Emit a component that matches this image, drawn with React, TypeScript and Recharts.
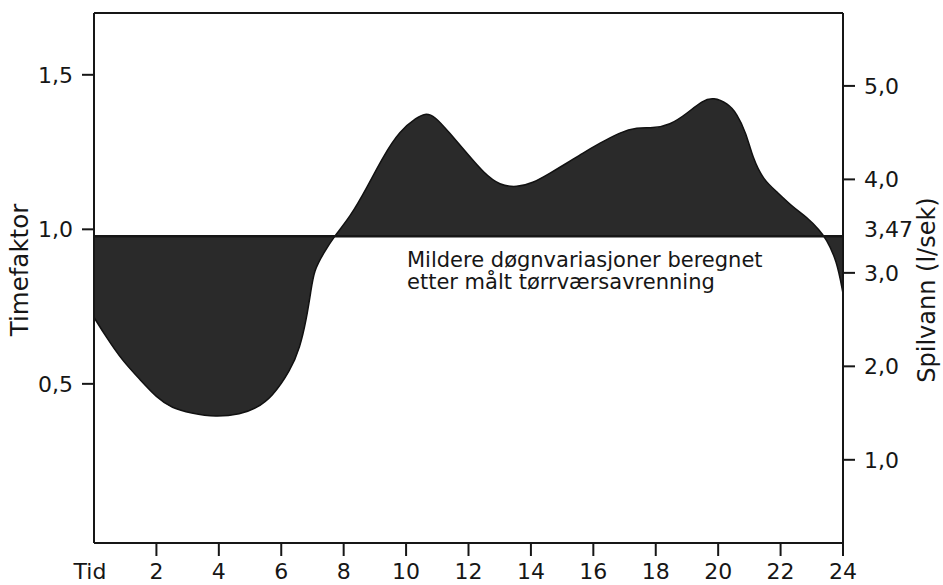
import React from "react";
import {
  ComposedChart,
  Area,
  XAxis,
  YAxis,
  ReferenceLine,
} from "recharts";

// hour of day and the hourly factor
const hours = [
  0, 0.4, 0.9, 1.5, 2, 2.5, 3.1, 3.9, 4.7, 5.2, 5.7, 6.3, 6.6, 6.8, 6.95,
  7.05, 7.35, 7.7, 8.2, 8.75, 9.25, 9.8, 10.35, 10.6, 10.9, 11.4, 11.95, 12.5,
  13, 13.55, 14.05, 14.6, 15.15, 15.65, 16.2, 16.85, 17.4, 17.9, 18.45, 19,
  19.5, 19.85, 20.3, 20.6, 20.9, 21.1, 21.45, 21.9, 22.4, 22.85, 23.25, 23.45,
  23.8, 24,
];
const timefaktor = [
  0.715, 0.65, 0.576, 0.511, 0.456, 0.421, 0.405, 0.392, 0.402, 0.421, 0.456,
  0.544, 0.618, 0.706, 0.8, 0.867, 0.922, 0.978, 1.039, 1.136, 1.233, 1.32,
  1.362, 1.375, 1.369, 1.311, 1.246, 1.181, 1.142, 1.136, 1.149, 1.181, 1.214,
  1.246, 1.278, 1.314, 1.33, 1.327, 1.337, 1.375, 1.417, 1.427, 1.408, 1.375,
  1.311, 1.233, 1.159, 1.12, 1.071, 1.039, 0.997, 0.971, 0.9, 0.793,
];

const hourTicks = [0, 2, 4, 6, 8, 10, 12, 14, 16, 18, 20, 22, 24];
const factorTicks = [0.5, 1.0, 1.5];
const spilvannTicks = [1, 2, 3, 3.47, 4, 5];
const meanLevel = 0.978; // 3,47 l/sek

const data = hours.map((h, i) => ({ hour: h, factor: timefaktor[i] }));

const FONT = "'DejaVu Sans', sans-serif";
const INK = "#161616";

function comma(v: number): string {
  const s = Number.isInteger(v) ? v.toFixed(1) : String(v);
  return s.replace(".", ",");
}

function HourTick(props: any) {
  const { x, y, payload } = props;
  const v = payload.value;
  return (
    <g>
      {v !== 0 && (
        <line x1={x} x2={x} y1={y - 20} y2={y - 7} stroke={INK} strokeWidth={2} />
      )}
      <text
        x={v === 0 ? x - 4 : x}
        y={y}
        dy="0.71em"
        textAnchor="middle"
        fill={INK}
        fontSize={22}
        fontFamily={FONT}
      >
        {v === 0 ? "Tid" : v}
      </text>
    </g>
  );
}

function SpilvannTick(props: any) {
  const { x, y, payload } = props;
  const v = payload.value;
  return (
    <g>
      {v !== 3.47 && (
        <line x1={x - 21} x2={x - 9} y1={y} y2={y} stroke={INK} strokeWidth={2} />
      )}
      <text
        x={x}
        y={y}
        dy="0.36em"
        textAnchor="start"
        fill={INK}
        fontSize={22}
        fontFamily={FONT}
      >
        {comma(v)}
      </text>
    </g>
  );
}

export default function App() {
  return (
    <div
      style={{
        position: "absolute",
        left: 0,
        top: 0,
        width: 943,
        height: 585,
        background: "#fff",
      }}
    >
      <ComposedChart
        width={943}
        height={585}
        data={data}
        margin={{ top: 12, right: 0, bottom: 0, left: 0 }}
      >
        <XAxis
          dataKey="hour"
          type="number"
          domain={[0, 24]}
          ticks={hourTicks}
          interval={0}
          height={42}
          tickSize={13}
          tickMargin={7}
          tickLine={false}
          axisLine={{ stroke: INK, strokeWidth: 2 }}
          tick={<HourTick />}
        />
        <XAxis
          xAxisId="top"
          orientation="top"
          dataKey="hour"
          type="number"
          domain={[0, 24]}
          height={1}
          tick={false}
          tickLine={false}
          axisLine={{ stroke: INK, strokeWidth: 2 }}
        />
        <YAxis
          yAxisId="left"
          type="number"
          domain={[-0.015, 1.7]}
          allowDataOverflow
          ticks={factorTicks}
          width={94}
          tickSize={12}
          tickMargin={9}
          tickFormatter={comma}
          tickLine={{ stroke: INK, strokeWidth: 2 }}
          axisLine={{ stroke: INK, strokeWidth: 2 }}
          tick={{ fill: INK, fontSize: 22, fontFamily: FONT }}
        />
        <YAxis
          yAxisId="right"
          orientation="right"
          type="number"
          domain={[0.11, 5.78]}
          allowDataOverflow
          ticks={spilvannTicks}
          interval={0}
          width={100}
          tickSize={12}
          tickMargin={9}
          tickLine={false}
          axisLine={{ stroke: INK, strokeWidth: 2 }}
          tick={<SpilvannTick />}
        />
        <Area
          yAxisId="left"
          type="basis"
          dataKey="factor"
          baseValue={meanLevel}
          stroke="#111"
          strokeWidth={1.5}
          fill="#2a2a2a"
          fillOpacity={1}
          dot={false}
          activeDot={false}
          isAnimationActive={false}
        />
        <ReferenceLine
          yAxisId="left"
          y={meanLevel}
          stroke={INK}
          strokeWidth={2.5}
        />
      </ComposedChart>
      <svg
        width={943}
        height={585}
        style={{ position: "absolute", left: 0, top: 0, pointerEvents: "none" }}
      >
        <text
          transform="translate(28 270) rotate(-90)"
          textAnchor="middle"
          fill={INK}
          fontSize={24.5}
          fontFamily={FONT}
        >
          Timefaktor
        </text>
        <text
          transform="translate(935 290) rotate(-90)"
          textAnchor="middle"
          fill={INK}
          fontSize={24}
          fontFamily={FONT}
        >
          Spilvann (l/sek)
        </text>
        <text x={407} y={267} fill={INK} fontSize={21} fontFamily={FONT}>
          Mildere døgnvariasjoner beregnet
        </text>
        <text x={407} y={289} fill={INK} fontSize={21} fontFamily={FONT}>
          etter målt tørrværsavrenning
        </text>
      </svg>
    </div>
  );
}
